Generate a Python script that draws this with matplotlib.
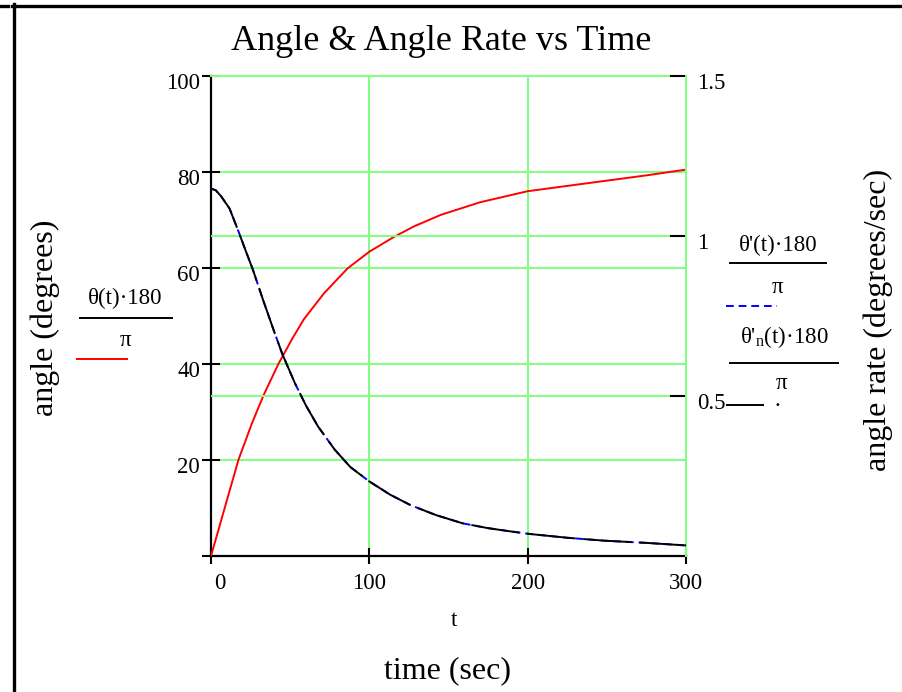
import matplotlib
matplotlib.use('Agg')
import matplotlib.pyplot as plt
from matplotlib.lines import Line2D
import matplotlib.transforms as mtransforms

plt.rcParams['font.family'] = ['Liberation Serif', 'DejaVu Serif']
plt.rcParams['mathtext.fontset'] = 'custom'
plt.rcParams['mathtext.rm'] = 'Liberation Serif'

# ---------------- data ----------------
t_angle = [0, 8.9, 17.3, 25.8, 33.2, 42.7, 51.2, 58.6, 71.3, 86.2, 100, 115.7,
           128.4, 145.4, 170, 200, 225, 250, 275, 300]
angle_deg = [0, 10.3, 20.0, 27.6, 33.5, 40.1, 45.2, 49.3, 54.7, 59.9, 63.4, 66.5,
             68.7, 71.1, 73.7, 76.0, 77.1, 78.2, 79.3, 80.5]

t_rate = [0, 3, 6.4, 11.7, 17, 21.3, 26.5, 32.9, 39.2, 44.9, 53, 60, 67.7, 78.2,
          88, 100, 113, 126, 142, 159, 175, 189, 201, 225, 248, 275, 300]
rate_exact = [1.148, 1.143, 1.124, 1.086, 1.019, 0.962, 0.894, 0.800, 0.711,
              0.633, 0.540, 0.470, 0.404, 0.332, 0.278, 0.233, 0.192, 0.159,
              0.128, 0.102, 0.087, 0.077, 0.069, 0.057, 0.048, 0.041, 0.033]
rate_numeric = [1.148, 1.143, 1.124, 1.086, 1.019, 0.962, 0.894, 0.800, 0.711,
                0.633, 0.540, 0.470, 0.404, 0.332, 0.278, 0.233, 0.192, 0.159,
                0.128, 0.102, 0.087, 0.077, 0.069, 0.057, 0.048, 0.041, 0.033]

x_ticks = [0, 100, 200, 300]
left_ticks = [0, 20, 40, 60, 80, 100]
left_labels = ['', '20', '40', '60', '80', '100']
right_ticks = [0.5, 1.0, 1.5]
right_labels = ['0.5', '1', '1.5']

# ---------------- layout ----------------
W, H = 902, 692
fig = plt.figure(figsize=(W / 100, H / 100), dpi=100)


def fx(x):
    return x / W


def fy(y):
    return 1 - y / H


GREEN = '#80ff80'
FS_TICK = 16.5

ax = fig.add_axes([fx(211), fy(556), fx(686) - fx(211), fy(76) - fy(556)])
ax.set_xlim(0, 300)
ax.set_ylim(0, 100)
ax2 = ax.twinx()
ax2.set_ylim(0, 1.5)

ax.grid(True, color=GREEN, lw=1.4)
ax2.grid(True, axis='y', color=GREEN, lw=1.4)
ax2.xaxis.grid(False)

ax.set_xticks(x_ticks, labels=[str(v) for v in x_ticks])
ax.set_yticks(left_ticks, labels=left_labels)
ax2.set_yticks(right_ticks, labels=right_labels)

ax.tick_params(axis='y', direction='inout', length=13, width=1.5, color='black',
               labelsize=FS_TICK, pad=1.5)
ax.tick_params(axis='x', direction='inout', length=12, width=1.5, color='black',
               labelsize=FS_TICK, pad=6)
ax2.tick_params(axis='y', direction='in', length=11.5, width=1.5, color='black',
                labelsize=FS_TICK, pad=8)

for s in ['left', 'bottom']:
    ax.spines[s].set_color('black')
    ax.spines[s].set_linewidth(1.6)
for s in ['top', 'right']:
    ax.spines[s].set_color(GREEN)
    ax.spines[s].set_linewidth(1.4)
for s in ['left', 'top', 'bottom']:
    ax2.spines[s].set_visible(False)
ax2.spines['right'].set_color(GREEN)
ax2.spines['right'].set_linewidth(1.4)

# curves
ax.plot(t_angle, angle_deg, color='red', lw=1.4, zorder=3)
ax2.plot(t_rate, rate_exact, color='blue', lw=1.4, ls=(0, (4, 2.5)), zorder=3)
ax2.plot(t_rate, rate_numeric, color='black', lw=1.4, ls=(0, (25, 4)), zorder=4)

# tick label offsets (Mathcad places labels slightly below tick)
down = mtransforms.ScaledTranslation(0, -5 / 100, fig.dpi_scale_trans)
for lab in ax.get_yticklabels() + ax2.get_yticklabels():
    lab.set_transform(lab.get_transform() + down)
right0 = mtransforms.ScaledTranslation(9 / 100, 0, fig.dpi_scale_trans)
xl = ax.get_xticklabels()
xl[0].set_transform(xl[0].get_transform() + right0)

# ---------------- texts ----------------
fig.text(fx(441), fy(50), 'Angle & Angle Rate vs Time', ha='center', va='baseline', fontsize=26)
fig.text(fx(454), fy(620), 't', ha='center', va='center', fontsize=FS_TICK)
fig.text(fx(447), fy(671), 'time (sec)', ha='center', va='center', fontsize=23)
fig.text(fx(45), fy(318), 'angle (degrees)', ha='center', va='center', rotation=90, fontsize=23)
fig.text(fx(878), fy(320), 'angle rate (degrees/sec)', ha='center', va='center', rotation=90,
         fontsize=23)


def hline(x0, x1, y, **kw):
    fig.add_artist(Line2D([fx(x0), fx(x1)], [fy(y), fy(y)], transform=fig.transFigure, **kw))


# left legend
fig.text(fx(125), fy(298), 'θ(t)·180', ha='center', va='center', fontsize=FS_TICK)
hline(80, 172, 318, color='black', lw=1.4)
fig.text(fx(125), fy(340), 'π', ha='center', va='center', fontsize=FS_TICK)
hline(77, 127, 359, color='red', lw=1.4)

# right legend
fig.text(fx(778), fy(245), "θ'(t)·180", ha='center', va='center', fontsize=FS_TICK)
hline(730, 826, 263, color='black', lw=1.4)
fig.text(fx(778), fy(287), 'π', ha='center', va='center', fontsize=FS_TICK)
hline(726, 777, 306, color='blue', lw=1.4, ls=(0, (4, 2.5)))

fig.text(fx(784), fy(337), r"θ'$_\mathregular{n}$(t)·180", ha='center', va='center', fontsize=FS_TICK)
hline(730, 838, 363, color='black', lw=1.4)
fig.text(fx(782), fy(384), 'π', ha='center', va='center', fontsize=FS_TICK)
hline(727, 763, 405, color='black', lw=1.4)
fig.text(fx(777), fy(401), '.', ha='center', va='center', fontsize=FS_TICK)

# frame
hline(12, 902, 5.5, color='black', lw=2.4)
hline(0, 8, 5.5, color='black', lw=2.4)
fig.add_artist(Line2D([fx(13.5), fx(13.5)], [fy(4), 0], transform=fig.transFigure,
                      color='black', lw=2.4))

fig.savefig('out.png', dpi=100)
